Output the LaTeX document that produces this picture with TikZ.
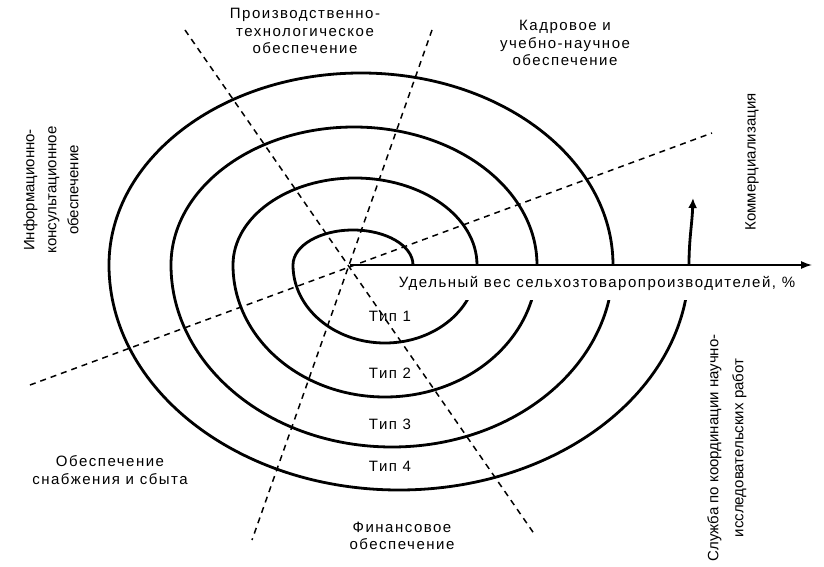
\documentclass[tikz,border=0pt]{standalone}
\usepackage{fontspec}
\setmainfont{Liberation Sans}
\newfontfamily\spacedfont[LetterSpace=10]{Liberation Sans}
\usetikzlibrary{arrows.meta}
\tikzset{
  lbl/.style={align=center, font=\spacedfont\fontsize{15}{17.5}\selectfont, inner sep=1pt},
  vlbl/.style={align=center, rotate=90, font=\fontsize{15}{22}\selectfont, inner sep=1pt},
  typ/.style={font=\spacedfont\fontsize{15}{17.5}\selectfont, inner sep=1pt},
  coil/.style={line width=2.8pt, line cap=round},
  sector/.style={dash pattern=on 6pt off 5pt, line width=1.5pt},
  axisln/.style={-{Latex[length=11pt,width=8pt]}, line width=1.4pt}
}

\begin{document}
\begin{tikzpicture}[x=1pt,y=1pt]
\useasboundingbox (0,0) rectangle (824,566);
% centre and dashed sector lines
\coordinate (o) at (350,301);
\coordinate (d1a) at (185,536); \coordinate (d1b) at (535,31);
\coordinate (d2a) at (432,536); \coordinate (d2b) at (252,26);
\coordinate (d3a) at (30,181);  \coordinate (d3b) at (712,433);
\draw[sector] (d1a) -- (d1b);
\draw[sector] (d2a) -- (d2b);
\draw[sector] (d3a) -- (d3b);
% spiral
\coordinate (s0) at (413,301);
\coordinate (comm) at (693,368);
\draw[coil, -{Latex[length=10pt,width=9pt]}] (s0)
  arc[start angle=0, end angle=180, x radius=60, y radius=35]
  arc[start angle=180, end angle=360, x radius=92, y radius=78]
  arc[start angle=0, end angle=180, x radius=122, y radius=87]
  arc[start angle=180, end angle=360, x radius=152, y radius=132]
  arc[start angle=0, end angle=180, x radius=183, y radius=138]
  arc[start angle=180, end angle=360, x radius=221, y radius=182]
  arc[start angle=0, end angle=180, x radius=252, y radius=192]
  arc[start angle=180, end angle=360, x radius=290, y radius=225]
  to[out=90, in=-92] (comm);
% axis
\node[typ, fill=white, minimum height=34pt, inner xsep=3pt] (ax) at (597,283) {Удельный вес сельхозтоваропроизводителей, \%};
\coordinate (xend) at (812,301);
\draw[axisln] (o) -- (xend);
% types
\node[typ] (t1) at (390,250) {Тип 1};
\node[typ] (t2) at (390,193) {Тип 2};
\node[typ] (t3) at (390,142) {Тип 3};
\node[typ] (t4) at (390,100) {Тип 4};
% sector labels
\node[lbl] (prod) at (305,535) {Производственно-\\технологическое\\обеспечение};
\node[lbl] (kadr) at (565,523) {Кадровое и\\учебно-научное\\обеспечение};
\node[vlbl] (info) at (51,376) {Информационно-\\консультационное\\обеспечение};
\node[vlbl] (kom) at (752,404) {Коммерциализация};
\node[vlbl, font=\fontsize{15}{25}\selectfont] (sluzh) at (727,118) {Служба по координации научно-\\исследовательских работ};
\node[lbl] (snab) at (110,96) {Обеспечение\\снабжения и сбыта};
\node[lbl] (fin) at (402,30) {Финансовое\\обеспечение};
\end{tikzpicture}
\end{document}
